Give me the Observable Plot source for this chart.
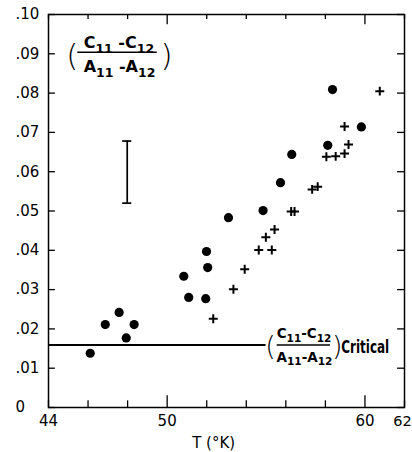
<!DOCTYPE html>
<html><head><meta charset="utf-8">
<script src="https://cdn.jsdelivr.net/npm/d3@7"></script>
<script src="https://cdn.jsdelivr.net/npm/@observablehq/plot@0.6"></script>
<style>body{margin:0;background:#fff} svg{display:block}</style>
</head><body><div id="chart"></div>
<script>
// Filled circles
const dotT = [46.11,46.87,47.57,47.93,48.33,50.84,51.09,51.95,52.05,51.99,53.10,54.85,55.73,56.30,58.12,58.36,59.82];
const dotV = [.0138,.0211,.0242,.0177,.0211,.0334,.0280,.0277,.0356,.0397,.0483,.0501,.0572,.0644,.0667,.0809,.0714];
// Crosses
const plusT = [52.33,53.35,53.92,54.63,55.29,54.99,55.43,56.27,56.44,57.33,57.61,58.05,58.52,58.97,59.17,58.97,60.75];
const plusV = [.0226,.0301,.0352,.0401,.0401,.0433,.0453,.0499,.0499,.0555,.0562,.0638,.0639,.0646,.0669,.0715,.0805];
// Error bar
const errT = 47.98, errLow = 0.0520, errHigh = 0.0678;
// Critical value
const critical = 0.0159, criticalEnd = 55.0;
// Ticks
const xTicks = [44,46,48,50,52,54,56,58,60,62];
const xMajor = [50,60];
const xTickLabels = [44,50,60,62];
const yTicks = [0,.01,.02,.03,.04,.05,.06,.07,.08,.09,.10];
const yTickLabels = ["0",".01",".02",".03",".04",".05",".06",".07",".08",".09",".10"];
const xLabel = "T (°K)";
const ratioNum = "C11 -C12", ratioDen = "A11 -A12";
const critNum = "C11-C12", critDen = "A11-A12", critWord = "Critical";

const dots = dotT.map((T,i)=>({T, v: dotV[i]}));
const pluses = plusT.map((T,i)=>({T, v: plusV[i]}));
const yLab = yTicks.map((v,i)=>({v, label: yTickLabels[i]}));
const isMajor = d => xMajor.includes(d);
const lastX = xTickLabels[xTickLabels.length - 1];

const svg = Plot.plot({
  width: 412, height: 452,
  marginLeft: 48, marginRight: 8, marginTop: 14, marginBottom: 45,
  x: {domain: [44,62], axis: null},
  y: {domain: [0,0.1], axis: null},
  style: {fontFamily: "DejaVu Sans", fontSize: "15px", background: "white", color: "black"},
  marks: [
    Plot.frame({stroke: "black", strokeWidth: 1.5}),
    // inward ticks
    Plot.ruleX(xTicks, {x: d=>d, y1: 0, y2: d => isMajor(d) ? 0.0030 : 0.0017, strokeWidth: 1.3}),
    Plot.ruleX(xTicks, {x: d=>d, y1: 0.1, y2: d => 0.1 - (isMajor(d) ? 0.0026 : 0.0013), strokeWidth: 1.3}),
    Plot.ruleY(yTicks, {y: d=>d, x1: 44, x2: 44.35, strokeWidth: 1.3}),
    Plot.ruleY(yTicks, {y: d=>d, x1: 61.65, x2: 62, strokeWidth: 1.3}),
    // tick labels
    Plot.text(yLab, {y: "v", text: "label", frameAnchor: "left", textAnchor: "start", dx: -33, fontSize: 15, fill: "black"}),
    Plot.text(xTickLabels.filter(d => d !== lastX), {x: d=>d, text: d=>String(d), frameAnchor: "bottom", lineAnchor: "top", dy: 8, fontSize: 15, fill: "black"}),
    Plot.text([lastX], {x: d=>d, text: d=>String(d), frameAnchor: "bottom", lineAnchor: "top", dy: 8, dx: -2, fontSize: 14.5, fill: "black"}),
    Plot.text([xLabel], {x: 52.35, text: d=>d, frameAnchor: "bottom", lineAnchor: "middle", dy: 36, fontSize: 15, letterSpacing: "1px", fill: "black"}),
    // critical line
    Plot.ruleY([critical], {x1: 44, x2: criticalEnd, strokeWidth: 2}),
    // error bar
    Plot.ruleX([errT], {y1: errLow, y2: errHigh, strokeWidth: 1.7}),
    Plot.ruleY([errLow, errHigh], {y: d=>d, x1: errT - 0.23, x2: errT + 0.23, strokeWidth: 1.7}),
    // data
    Plot.dot(dots, {x: "T", y: "v", r: 4.6, fill: "black"}),
    Plot.dot(pluses, {x: "T", y: "v", symbol: "plus", r: 3, stroke: "black", strokeWidth: 2}),
    // top-left ratio
    Plot.text([ratioNum], {x: 47.56, y: 0.0927, text: d=>d, fontSize: 16, fontWeight: "bold"}),
    Plot.text([ratioDen], {x: 47.59, y: 0.0866, text: d=>d, fontSize: 16, fontWeight: "bold"}),
    Plot.ruleY([0.0904], {x1: 45.48, x2: 49.5, strokeWidth: 1.5}),
    Plot.text(["(", ")"], {x: [45.2, 49.97], y: 0.0893, text: d=>d, fontSize: 31, fontWeight: 200}),
    // critical label
    Plot.text([critNum], {x: 56.92, y: 0.0188, text: d=>d, fontSize: 13.5, fontWeight: "bold"}),
    Plot.text([critDen], {x: 56.94, y: 0.0128, text: d=>d, fontSize: 13.5, fontWeight: "bold"}),
    Plot.ruleY([critical], {x1: 55.56, x2: 58.26, strokeWidth: 1.5}),
    Plot.text(["(", ")"], {x: [55.22, 58.6], y: 0.0155, text: d=>d, fontSize: 27, fontWeight: 200}),
    Plot.text([critWord], {x: 58.8, y: 0.0153, text: d=>d, textAnchor: "start", fontSize: 18, fontWeight: "bold"})
  ]
});

// subscripts for C11, A12, ...
const NS = "http://www.w3.org/2000/svg";
svg.querySelectorAll("text").forEach(el => {
  const s = el.textContent;
  if (!/[CA]1[12]/.test(s)) return;
  const fs = parseFloat(el.closest("g").getAttribute("font-size")) || 15;
  el.textContent = "";
  const parts = s.match(/[A-Za-z]|\d+|[^A-Za-z\d]+/g);
  let shifted = false;
  const sh = fs * 0.28;
  for (const p of parts) {
    const t = document.createElementNS(NS, "tspan");
    t.textContent = p;
    if (/^\d+$/.test(p)) { t.setAttribute("font-size", fs * 0.78); t.setAttribute("dy", sh); shifted = true; }
    else if (shifted) { t.setAttribute("dy", -sh); shifted = false; }
    el.appendChild(t);
  }
});
svg.querySelectorAll("text").forEach(el => {
  if (el.textContent === critWord) { el.setAttribute("textLength", 48); el.setAttribute("lengthAdjust", "spacingAndGlyphs"); }
});
document.getElementById("chart").appendChild(svg);
</script>
</body></html>
